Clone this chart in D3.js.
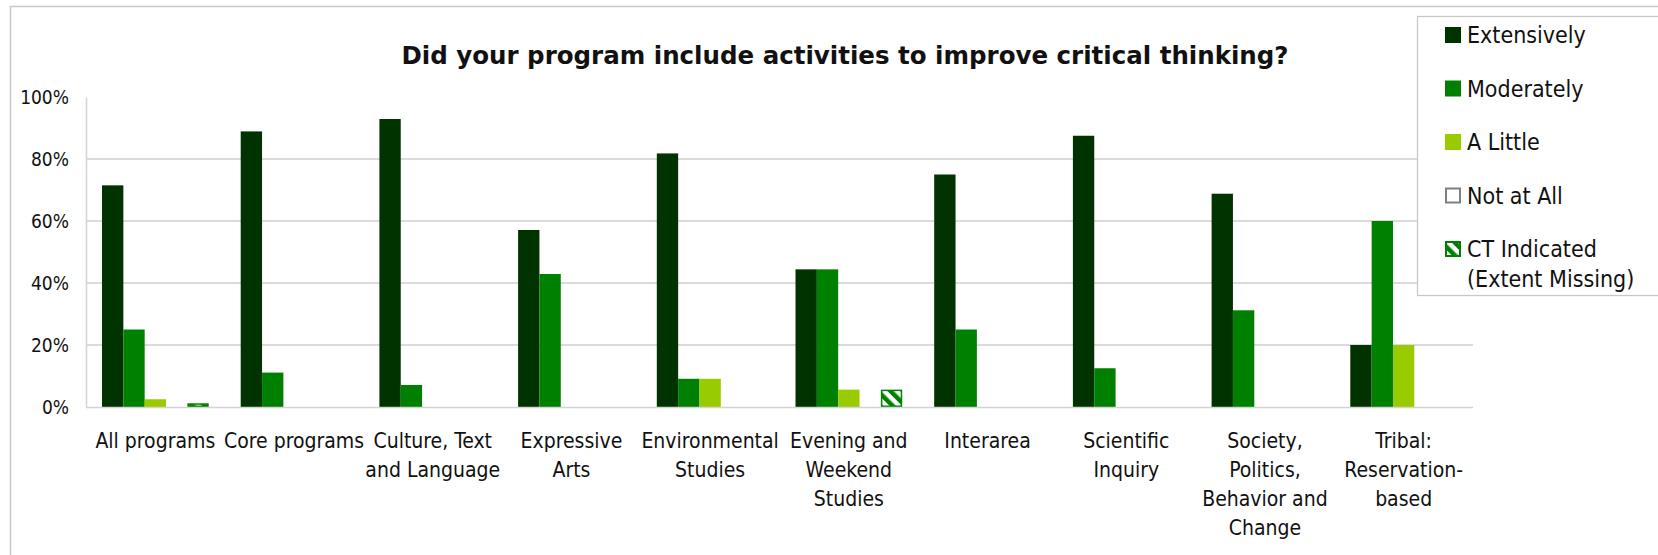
<!DOCTYPE html>
<html>
<head>
<meta charset="utf-8">
<script src="https://cdn.jsdelivr.net/npm/d3@7"></script>
<style>
  html, body { margin: 0; padding: 0; background: #fff; overflow: hidden; }
  text { font-family: "DejaVu Sans Condensed", "DejaVu Sans", sans-serif; fill: #111; }
</style>
</head>
<body>
<div id="chart"></div>
<script>
/** Categories along the x axis ("\n" marks a wrapped line). */
const categories = [
    "All programs",
    "Core programs",
    "Culture, Text\nand Language",
    "Expressive\nArts",
    "Environmental\nStudies",
    "Evening and\nWeekend\nStudies",
    "Interarea",
    "Scientific\nInquiry",
    "Society,\nPolitics,\nBehavior and\nChange",
    "Tribal:\nReservation-\nbased"
];

/** Series names, in legend order. */
const seriesNames = ["Extensively", "Moderately", "A Little", "Not at All", "CT Indicated\n(Extent Missing)"];

/** Percent values, one array per series. */
const extensively = [71.5, 88.9, 92.9, 57.1, 81.8, 44.4, 75.0, 87.5, 68.8, 20.0];
const moderately  = [25.0, 11.1, 7.1, 42.9, 9.1, 44.4, 25.0, 12.5, 31.2, 60.0];
const aLittle     = [2.5, 0, 0, 0, 9.1, 5.6, 0, 0, 0, 20.0];
const notAtAll    = [0, 0, 0, 0, 0, 0, 0, 0, 0, 0];
const ctIndicated = [1.2, 0, 0, 0, 0, 5.6, 0, 0, 0, 0];

const yTicks = [0, 20, 40, 60, 80, 100];

const TITLE = "Did your program include activities to improve critical thinking?";

const WIDTH = 1658;
const HEIGHT = 555;

// Plot area in pixels
const LEFT = 86;
const RIGHT = 1473;
const TOP = 97;
const BOTTOM = 407;

const GREEN = "#008000";

let svg = d3.select("#chart").append("svg")
    .attr("width", WIDTH)
    .attr("height", HEIGHT);

// Hatched fill for the "CT Indicated" series
svg.append("defs").append("pattern")
    .attr("id", "hatch")
    .attr("patternUnits", "userSpaceOnUse")
    .attr("width", 9)
    .attr("height", 9)
    .attr("patternTransform", "rotate(-45)")
    .call(p => {
        p.append("rect").attr("width", 9).attr("height", 9).attr("fill", "#fff");
        p.append("rect").attr("width", 4.5).attr("height", 9).attr("fill", GREEN);
    });

const series = [
    { name: seriesNames[0], values: extensively, fill: "#003300", stroke: "none" },
    { name: seriesNames[1], values: moderately, fill: GREEN, stroke: "none" },
    { name: seriesNames[2], values: aLittle, fill: "#99cc00", stroke: "none" },
    { name: seriesNames[3], values: notAtAll, fill: "#fff", stroke: "#808080" },
    { name: seriesNames[4], values: ctIndicated, fill: "url(#hatch)", stroke: GREEN }
];

// Outer chart frame
svg.append("rect")
    .attr("x", 10.5)
    .attr("y", 6.5)
    .attr("width", WIDTH)
    .attr("height", HEIGHT)
    .attr("fill", "none")
    .attr("stroke", "#c8c8c8")
    .attr("stroke-width", 1.5);

// Scales
const x0 = d3.scaleBand()
    .domain(categories)
    .range([LEFT, RIGHT]);

// gap width of 150% -> 0.75 of a bar on each side
const x1 = d3.scaleBand()
    .domain(series.map(s => s.name))
    .range([0, x0.bandwidth()])
    .paddingInner(0)
    .paddingOuter(0.75);

const y = d3.scaleLinear()
    .domain([0, 100])
    .range([BOTTOM, TOP]);

// Gridlines
svg.append("g")
    .selectAll("line")
    .data(yTicks.filter(t => t > 0 && t < 100))
    .enter()
    .append("line")
    .attr("x1", LEFT)
    .attr("x2", RIGHT)
    .attr("y1", d => y(d))
    .attr("y2", d => y(d))
    .attr("stroke", "#cfcfcf")
    .attr("stroke-width", 1.3);

// Y axis
const yAxis = svg.append("g")
    .attr("transform", `translate(${LEFT},0)`)
    .call(d3.axisLeft(y).tickValues(yTicks).tickFormat(d => d + "%").tickSize(0).tickPadding(17));
yAxis.select(".domain").attr("stroke", "#d4d4d4").attr("stroke-width", 1.5);
yAxis.selectAll("text")
    .style("font-size", "19px")
    .style("font-family", "'DejaVu Sans Condensed', 'DejaVu Sans', sans-serif")
    .attr("fill", "#111");

// Bars
svg.append("g")
    .selectAll("g")
    .data(series)
    .enter()
    .append("g")
    .each(function (s) {
        d3.select(this).selectAll("rect")
            .data(s.values.map((v, i) => ({ cat: categories[i], v })).filter(d => d.v > 0))
            .enter()
            .append("rect")
            .attr("x", d => x0(d.cat) + x1(s.name) + (s.stroke === "none" ? 0 : 0.75))
            .attr("y", d => y(d.v) + (s.stroke === "none" ? 0 : 0.75))
            .attr("width", x1.bandwidth() - (s.stroke === "none" ? 0 : 1.5))
            .attr("height", d => Math.max(0, BOTTOM - y(d.v) - (s.stroke === "none" ? 0 : 1.5)))
            .attr("fill", s.fill)
            .attr("stroke", s.stroke)
            .attr("stroke-width", 1.5);
    });

// X axis line
svg.append("line")
    .attr("x1", LEFT)
    .attr("x2", RIGHT)
    .attr("y1", BOTTOM + 0.5)
    .attr("y2", BOTTOM + 0.5)
    .attr("stroke", "#d4d4d4")
    .attr("stroke-width", 1.5);

// Category labels
svg.append("g")
    .selectAll("text")
    .data(categories)
    .enter()
    .append("text")
    .attr("text-anchor", "middle")
    .style("font-size", "21px")
    .each(function (c) {
        c.split("\n").forEach((line, i) => {
            d3.select(this).append("tspan")
                .attr("x", x0(c) + x0.bandwidth() / 2)
                .attr("y", 448 + i * 29)
                .text(line);
        });
    });

// Title
svg.append("text")
    .attr("x", 845)
    .attr("y", 64)
    .attr("text-anchor", "middle")
    .style("font-family", "'DejaVu Sans', sans-serif")
    .style("font-size", "24.5px")
    .style("font-weight", "bold")
    .text(TITLE);

// Legend
const legend = svg.append("g");
legend.append("rect")
    .attr("x", 1417.5)
    .attr("y", 16.5)
    .attr("width", 300)
    .attr("height", 279)
    .attr("fill", "#fff")
    .attr("stroke", "#c8c8c8")
    .attr("stroke-width", 1.3);

const rowY = d3.scalePoint()
    .domain(series.map(s => s.name))
    .range([35, 249]);

series.forEach(s => {
    const cy = rowY(s.name);
    const boxed = s.stroke !== "none";
    legend.append("rect")
        .attr("x", 1445 + (boxed ? 1 : 0))
        .attr("y", cy - 8 + (boxed ? 1 : 0))
        .attr("width", boxed ? 14 : 16)
        .attr("height", boxed ? 14 : 16)
        .attr("fill", s.fill)
        .attr("stroke", s.stroke)
        .attr("stroke-width", 2);
    const t = legend.append("text")
        .style("font-size", "23px");
    s.name.split("\n").forEach((line, i) => {
        t.append("tspan")
            .attr("x", 1467)
            .attr("y", cy + 8 + i * 30)
            .text(line);
    });
});
</script>
</body>
</html>
